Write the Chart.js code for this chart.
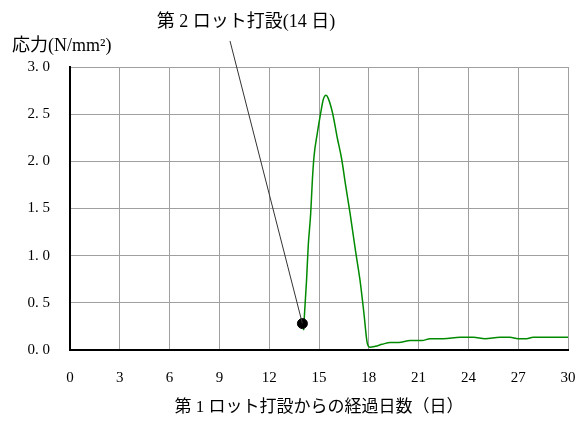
<!DOCTYPE html>
<html>
<head>
<meta charset="utf-8">
<script src="https://cdn.jsdelivr.net/npm/chart.js@4"></script>
<style>
  html, body { margin: 0; padding: 0; background: #fff; }
  #wrap { width: 582px; height: 421px; }
</style>
</head>
<body>
<div id="wrap"><canvas id="stressChart"></canvas></div>
<script>
// elapsed days since lot 1 placement, and stress (N/mm2)
const days = [14.07, 14.15, 14.25, 14.35, 14.5, 14.6, 14.7, 14.9, 15.1, 15.25, 15.42, 15.55,
  15.82, 16.1, 16.36, 16.6, 16.87, 17.2, 17.47, 17.7, 17.91, 18.07, 18.4, 18.8, 19.3, 19.8,
  20.5, 21.2, 21.7, 22.5, 23.5, 24.3, 25.0, 25.9, 26.5, 27.0, 27.5, 27.9, 29.0, 30.0];
const stress = [0.21, 0.45, 0.74, 1.10, 1.45, 1.80, 2.05, 2.30, 2.51, 2.65, 2.70, 2.67,
  2.51, 2.25, 2.03, 1.75, 1.45, 1.05, 0.74, 0.40, 0.07, 0.03, 0.04, 0.06, 0.08, 0.08,
  0.10, 0.10, 0.12, 0.12, 0.135, 0.135, 0.12, 0.135, 0.135, 0.12, 0.12, 0.135, 0.135, 0.135];
const markerDay = [14];
const markerStress = [0.28];
const markerLabel = '第 2 ロット打設(14 日)';
const yTitle = '応力(N/mm²)';
const xTitle = '第 1 ロット打設からの経過日数（日）';

const FONT = "'Liberation Serif', 'Noto Sans CJK JP', serif";

const annotate = {
  id: 'annotate',
  afterDraw(chart) {
    const ctx = chart.ctx;
    const xs = chart.scales.x, ys = chart.scales.y;
    const px = xs.getPixelForValue(markerDay[0]);
    const py = ys.getPixelForValue(markerStress[0]);
    ctx.save();
    ctx.strokeStyle = '#333';
    ctx.lineWidth = 1;
    ctx.beginPath();
    ctx.moveTo(230, 41);
    ctx.lineTo(px, py);
    ctx.stroke();
    ctx.fillStyle = '#000';
    ctx.font = '18px ' + FONT;
    ctx.textBaseline = 'middle';
    ctx.textAlign = 'center';
    ctx.fillText(markerLabel, 246, 22);
    ctx.textAlign = 'left';
    ctx.fillText(yTitle, 12, 46);
    ctx.restore();
  }
};

new Chart(document.getElementById('stressChart'), {
  type: 'scatter',
  data: {
    datasets: [{
      data: markerDay.map((d, i) => ({ x: d, y: markerStress[i] })),
      backgroundColor: '#000',
      borderColor: '#000',
      pointRadius: 5,
      order: 0
    }, {
      data: days.map((d, i) => ({ x: d, y: stress[i] })),
      showLine: true,
      borderColor: '#008a00',
      borderWidth: 1.5,
      pointRadius: 0,
      cubicInterpolationMode: 'monotone',
      order: 1
    }]
  },
  options: {
    responsive: true,
    maintainAspectRatio: false,
    animation: false,
    layout: { padding: { top: 67, right: 14, left: 0, bottom: 0 } },
    plugins: { legend: { display: false }, tooltip: { enabled: false } },
    scales: {
      x: {
        min: 0, max: 30,
        afterFit(s) { s.height = 71; },
        grid: { color: '#a0a0a0', tickLength: 19, tickColor: 'rgba(0,0,0,0)' },
        border: { color: '#000', width: 2 },
        ticks: { stepSize: 3, padding: 0, color: '#000', font: { family: FONT, size: 15 } },
        title: { display: true, text: xTitle, color: '#000', padding: { top: 0, bottom: 3 }, font: { family: FONT, size: 17 } }
      },
      y: {
        min: 0, max: 3,
        afterFit(s) { s.width = 70; },
        grid: { color: '#a0a0a0', tickLength: 20, tickColor: 'rgba(0,0,0,0)' },
        border: { color: '#000', width: 2 },
        ticks: {
          stepSize: 0.5, padding: 0, color: '#000', font: { family: FONT, size: 15 },
          callback: v => v.toFixed(1).replace('.', '. ')
        }
      }
    }
  },
  plugins: [annotate]
});
</script>
</body>
</html>
